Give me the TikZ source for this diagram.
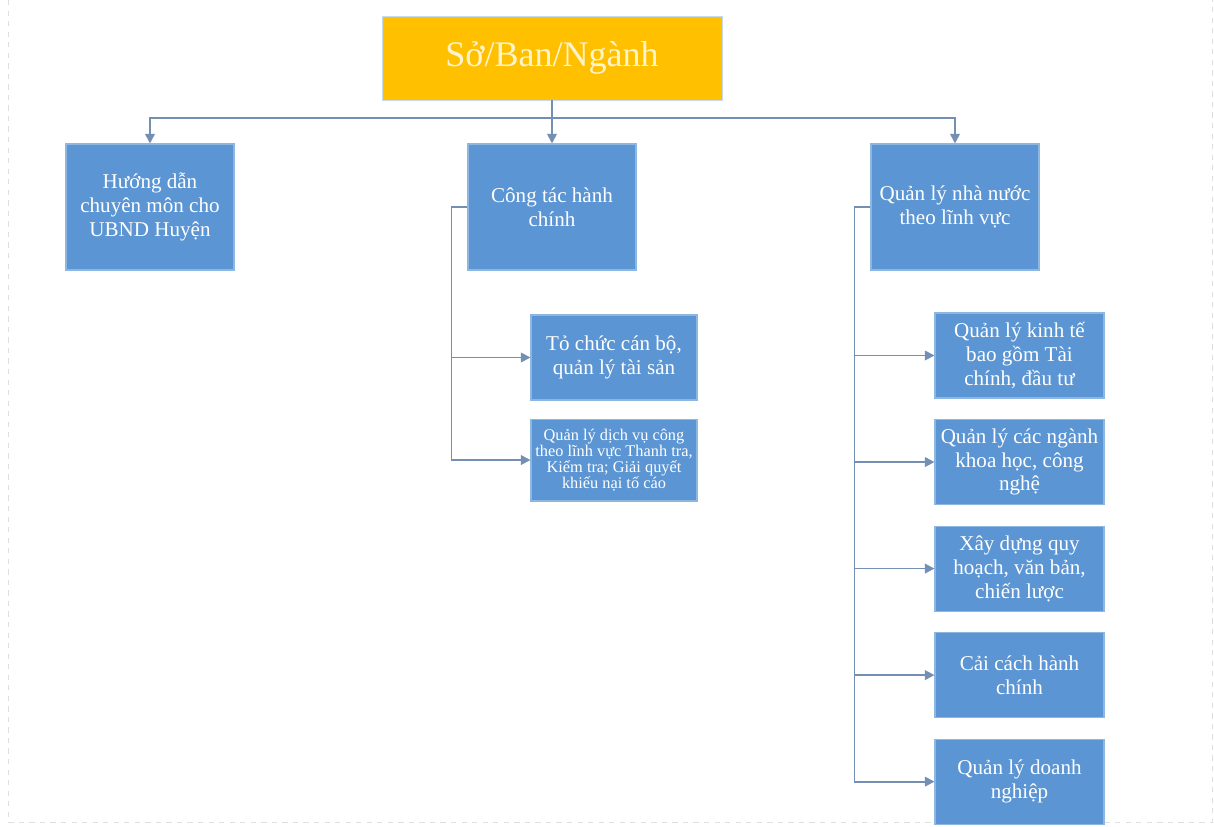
\documentclass[tikz,border=0pt]{standalone}
\usepackage{fontspec}
\setmainfont{Liberation Serif}
\usetikzlibrary{arrows.meta, positioning}
\definecolor{boxblue}{HTML}{5B95D3}
\definecolor{boxedge}{HTML}{8DB6E0}
\definecolor{headgold}{HTML}{FFC000}
\definecolor{headtext}{HTML}{FFF3CC}
\definecolor{linkgray}{HTML}{7390B4}

\begin{document}
\begin{tikzpicture}[
    x=0.02cm, y=-0.02cm,
    node distance=0.41cm,
    unit/.style={
        rectangle, draw=boxedge, line width=0.6pt,
        fill=boxblue, text=white, align=center,
        font=\fontsize{12}{13.6}\selectfont, inner sep=2pt
    },
    dept/.style={unit, minimum width=3.36cm, minimum height=2.52cm},
    sub/.style={unit, minimum width=3.38cm, minimum height=1.7cm},
    head/.style={
        rectangle, draw=boxedge!50, fill=headgold, text=headtext,
        minimum width=6.8cm, minimum height=1.68cm,
        font=\fontsize{20.5}{24}\selectfont
    },
    arr/.style={-{Triangle[length=5.5pt, width=5.5pt]}, linkgray, line width=1pt},
]
\useasboundingbox (0,0) rectangle (1214,827);

% page edges
\draw[gray!25, dashed] (8,0) -- (8,822) -- (1212,822) -- (1212,0);

\node[head] (so) at (552,58) {Sở/Ban/Ngành};

\node[dept] (hd) at (150,207) {Hướng dẫn\\chuyên môn cho\\UBND Huyện};
\node[dept] (ct) at (552,207) {Công tác hành\\chính};
\node[dept] (qlnn) at (955,207) {Quản lý nhà nước\\theo lĩnh vực};

% ── Công tác hành chính ──────
\node[sub, minimum width=3.32cm] (tccb) at (614,357.5) {Tỏ chức cán bộ,\\quản lý tài sản};
\node[sub, minimum width=3.32cm, minimum height=1.64cm, below=0.36cm of tccb,
      font=\fontsize{9.3}{9}\selectfont] (dvc)
      {Quản lý dịch vụ công\\theo lĩnh vực Thanh tra,\\Kiểm tra; Giải quyết\\khiếu nại tố cáo};

% ── Quản lý nhà nước ──────
\node[sub] (kt) at (1019.5,355.5) {Quản lý kinh tế\\bao gồm Tài\\chính, đầu tư};
\node[sub, below=of kt] (khcn) {Quản lý các ngành\\khoa học, công\\nghệ};
\node[sub, below=of khcn] (qh) {Xây dựng quy\\hoạch, văn bản,\\chiến lược};
\node[sub, below=of qh] (cchc) {Cải cách hành\\chính};
\node[sub, below=of cchc] (dn) {Quản lý doanh\\nghiệp};

% ── Connectors ──────
\coordinate (bus) at (552,118);
\draw[arr] (so.south) -- (ct.north);
\draw[arr] (bus) -| (hd.north);
\draw[arr] (bus) -| (qlnn.north);

\foreach \c in {tccb, dvc}
    \draw[arr] (ct.west) -- ++(-16,0) |- (\c.west);
\foreach \c in {kt, khcn, qh, cchc, dn}
    \draw[arr] (qlnn.west) -- ++(-16,0) |- (\c.west);

\end{tikzpicture}
\end{document}
